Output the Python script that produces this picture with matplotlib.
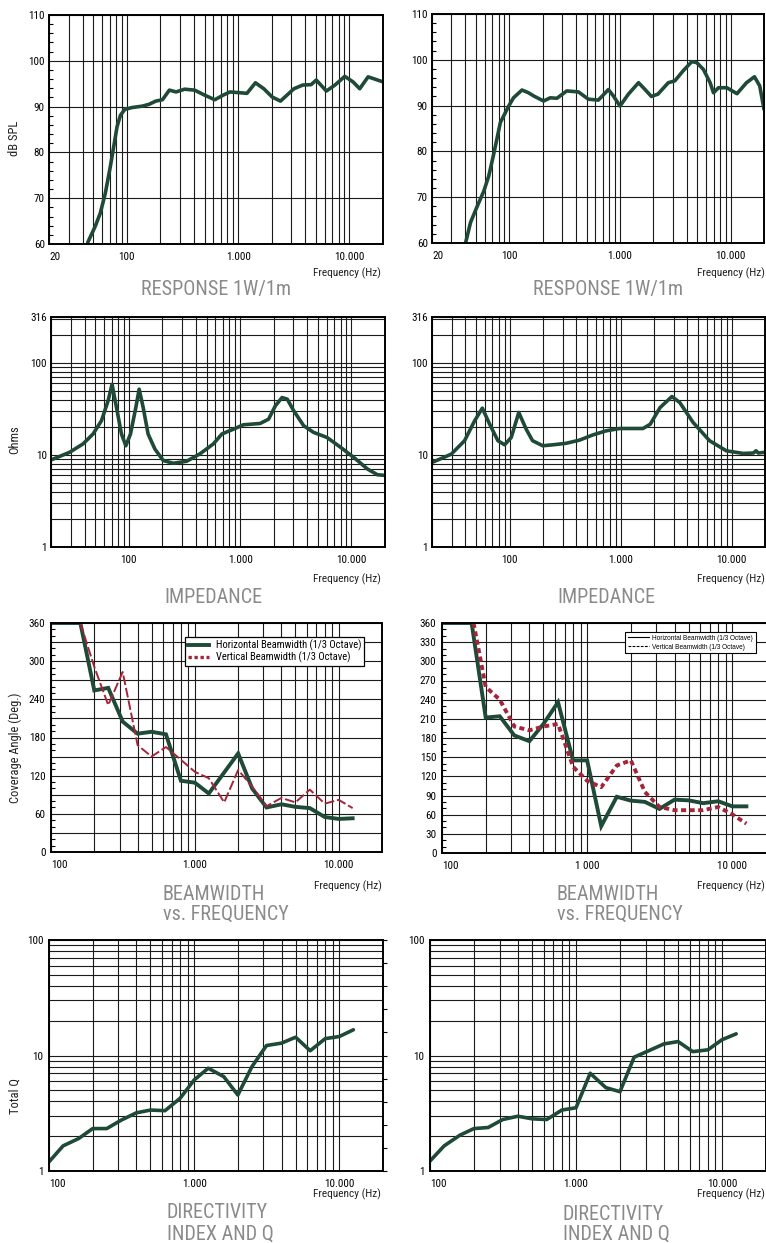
import numpy as np
import matplotlib
matplotlib.use('Agg')
import matplotlib.pyplot as plt
from matplotlib import font_manager as fm
from matplotlib.font_manager import FontProperties
from matplotlib.lines import Line2D
from matplotlib.ticker import LogLocator, NullFormatter, NullLocator, FixedLocator

# ---------------- DATA ----------------
RESP_L_F = [44.5, 51.9, 57.7, 64, 71.1, 76.2, 81.7, 87.6, 95.9, 111.8, 137.8, 158.5, 182, 209, 241, 277,
            330, 406, 500, 617, 733, 845, 1200, 1430, 1700, 2020, 2400, 3170, 3800, 4530, 5030, 6200,
            7400, 9070, 10760, 12360, 14700, 20000]
RESP_L_DB = [60.3, 63.8, 66.7, 71.0, 76.9, 81.2, 85.6, 88.1, 89.4, 89.8, 90.1, 90.5, 91.2, 91.5, 93.6, 93.2,
             93.8, 93.6, 92.5, 91.5, 92.5, 93.2, 92.9, 95.2, 93.9, 92.1, 91.2, 93.9, 94.7, 94.8, 95.8, 93.4,
             94.7, 96.6, 95.4, 93.9, 96.5, 95.4]

RESP_R_F = [40.2, 44.6, 51.2, 58.7, 65.1, 72.2, 82.9, 98.6, 109, 130, 149, 166, 204, 234, 269, 330, 420,
            518, 637, 785, 871, 1000, 1190, 1470, 1670, 1920, 2200, 2730, 3130, 3720, 4450, 4930, 5670,
            6520, 6990, 7760, 9250, 11400, 13900, 16400, 18300, 20000]
RESP_R_DB = [60.0, 64.5, 68.0, 71.3, 74.6, 79.4, 86.3, 89.9, 91.7, 93.4, 92.8, 92.1, 91.0, 91.7, 91.6, 93.2,
             93.0, 91.4, 91.2, 93.5, 92.1, 89.9, 92.5, 95.0, 93.6, 92.0, 92.5, 95.0, 95.4, 97.6, 99.6, 99.4,
             97.9, 95.0, 92.8, 93.9, 93.9, 92.6, 95.0, 96.3, 94.3, 89.2]

IMP_L_F = [20, 29.4, 38.8, 47.7, 56.8, 65.1, 70.7, 77.5, 85.9, 94, 103.5, 115.6, 123.8, 134.6, 149, 171.5,
           204, 251, 331, 436, 575, 685, 872, 1070, 1510, 1800, 2070, 2380, 2650, 3030, 3720, 4570, 6030,
           8000, 10500, 13900, 17100, 20000]
IMP_L_Z = [8.83, 10.7, 13.2, 16.9, 23.6, 38.7, 58.7, 32.8, 16.9, 12.6, 16.9, 32.8, 51.9, 32.8, 16.9, 11.6,
           8.7, 8.13, 8.55, 10.3, 13.2, 16.9, 19.1, 21.3, 22.0, 24.5, 34.2, 42.1, 40.4, 30.2, 20.8, 17.6, 15.5,
           12.1, 9.4, 7.05, 6.1, 6.0]

IMP_R_F = [20, 29.8, 39.3, 48.4, 56.8, 66.0, 78.5, 90.1, 103.5, 121, 141, 161, 199, 245, 323, 426, 561,
           740, 978, 1590, 1850, 2270, 2900, 3410, 4500, 6330, 8970, 12700, 15700, 16600, 17400, 20000]
IMP_R_Z = [8.3, 10.2, 14.3, 23.5, 32.3, 21.7, 14.3, 12.9, 15.5, 29.0, 19.1, 14.3, 12.6, 12.9, 13.4, 14.5,
           16.5, 18.3, 19.4, 19.4, 21.6, 32.8, 43.2, 37.2, 22.6, 14.3, 11.1, 10.4, 10.5, 11.1, 10.5, 10.7]

BEAM_L_HF = [100, 160, 200, 250, 315, 400, 500, 630, 800, 1000, 1250, 2000, 2500, 3150, 4000, 5000,
             6300, 8000, 10000, 12500]
BEAM_L_H = [360, 360, 254, 258, 205, 186, 189, 185, 112, 109, 92, 155, 100, 70, 75, 71, 69, 55, 52, 53]
BEAM_L_VF = [160, 200, 250, 315, 400, 500, 630, 800, 1000, 1250, 1600, 2000, 2500, 3150, 4000, 5000,
             6300, 8000, 10000, 12500]
BEAM_L_V = [360, 291, 231, 283, 168, 150, 165, 145, 126, 116, 78, 129, 103, 72, 85, 78, 98, 76, 82, 69]

BEAM_R_HF = [100, 160, 200, 250, 315, 400, 500, 630, 800, 1000, 1250, 1600, 2000, 2500, 3150, 4000,
             5000, 6300, 8000, 10000, 12500]
BEAM_R_H = [360, 360, 212, 214, 184, 175, 202, 236, 145, 145, 42, 88, 82, 80, 69, 83.5, 82.4, 78, 81, 73, 73]
BEAM_R_VF = [165, 200, 250, 315, 400, 500, 630, 800, 1000, 1250, 1600, 2000, 2500, 3150, 4000, 5000,
             6300, 8000, 10000, 12500]
BEAM_R_V = [360, 260, 240, 198, 192, 198, 202, 135, 113, 103, 137, 145, 95.5, 72, 67, 67, 67, 72, 60.5, 46]

DIR_L_F = [100, 125, 160, 200, 250, 315, 400, 500, 630, 800, 1000, 1250, 1600, 2000, 2500, 3150, 4000,
           5000, 6300, 8000, 10000, 12500]
DIR_L_Q = [1.2, 1.65, 1.91, 2.33, 2.33, 2.76, 3.19, 3.37, 3.33, 4.26, 6.14, 7.76, 6.56, 4.55, 8.0, 12.2,
           12.8, 14.4, 11.0, 14.0, 14.6, 16.7]
DIR_R_F = [100, 125, 160, 200, 250, 315, 400, 500, 630, 800, 1000, 1250, 1600, 2000, 2500, 3150, 4000,
           5000, 6300, 8000, 10000, 12500]
DIR_R_Q = [1.22, 1.65, 2.04, 2.33, 2.38, 2.79, 2.98, 2.83, 2.79, 3.37, 3.53, 7.02, 5.27, 4.86, 9.67, 11.0,
           12.6, 13.2, 10.8, 11.2, 13.7, 15.4]

RESP_YTICKS = [60, 70, 80, 90, 100, 110]
IMP_YTICKS = [1, 10, 100, 316]
DIR_YTICKS = [1, 10, 100]
LEG_H = 'Horizontal Beamwidth (1/3 Octave)'
LEG_V = 'Vertical Beamwidth (1/3 Octave)'

# ---------------- STYLE ----------------
W, H, DPI = 766, 1243, 100
GREEN = '#1f4a37'
RED = '#a3253a'
GRID = '#1a1a1a'
TITLE = '#8a8a8a'


def pick_cond():
    ents = fm.fontManager.ttflist
    names = {e.name for e in ents}
    for n in ['Liberation Sans Narrow', 'Roboto Condensed', 'DejaVu Sans Condensed',
              'Open Sans Condensed', 'Noto Sans Condensed', 'Arial Narrow']:
        if n in names:
            return dict(family=n)
    for fam in ['DejaVu Sans', 'Noto Sans', 'Open Sans', 'Roboto']:
        for e in ents:
            if e.name == fam and 'condensed' in str(e.stretch):
                return dict(family=fam, stretch=e.stretch)
    return dict(family='Liberation Sans')


COND = pick_cond()


def fp(size):
    return FontProperties(size=size, **COND)


fig = plt.figure(figsize=(W / DPI, H / DPI), dpi=DPI)


def px_axes(x0, y0, x1, y1):
    return fig.add_axes([x0 / W, 1 - y1 / H, (x1 - x0) / W, (y1 - y0) / H])


def ftext(x, y, s, **kw):
    kw.setdefault('va', 'center')
    fig.text(x / W, 1 - y / H, s, **kw)


def setup_x(ax, xlim, ticks, labels):
    ax.set_xscale('log')
    ax.set_xlim(*xlim)
    ax.set_xticks(ticks, labels=labels)
    ax.xaxis.set_minor_locator(LogLocator(base=10, subs=np.arange(2, 10), numticks=60))
    ax.xaxis.set_minor_formatter(NullFormatter())
    ax.tick_params(axis='x', which='both', length=0, pad=6)
    ax.xaxis.grid(True, which='both', color=GRID, lw=0.8)
    for lab in ax.get_xticklabels():
        lab.set_fontproperties(fp(8))
    ax.get_xticklabels()[0].set_ha('left')
    for s in ax.spines.values():
        s.set_linewidth(1.4)
        s.set_color('black')


def finish_y(ax):
    for lab in ax.get_yticklabels():
        lab.set_fontproperties(fp(8))


def resp(ax, f, db):
    setup_x(ax, (20, 20000), [20, 100, 1000, 10000], ['20', '100', '1.000', '10.000'])
    ax.set_ylim(60, 110)
    ax.set_yticks(RESP_YTICKS)
    ax.yaxis.set_minor_locator(FixedLocator(np.arange(60, 111, 2)))
    ax.tick_params(axis='y', which='major', length=0, pad=3)
    ax.tick_params(axis='y', which='minor', direction='in', length=3, width=0.8)
    ax.yaxis.grid(True, which='major', color=GRID, lw=0.8)
    ax.plot(f, db, color=GREEN, lw=2.6, solid_capstyle='round', solid_joinstyle='round')
    finish_y(ax)


def imp(ax, f, z):
    setup_x(ax, (20, 20000), [100, 1000, 10000], ['100', '1.000', '10.000'])
    ax.get_xticklabels()[0].set_ha('center')
    ax.set_yscale('log')
    ax.set_ylim(1, 316)
    ax.set_yticks(IMP_YTICKS, labels=[str(v) for v in IMP_YTICKS])
    ax.yaxis.set_minor_locator(LogLocator(base=10, subs=np.arange(2, 10), numticks=60))
    ax.yaxis.set_minor_formatter(NullFormatter())
    ax.tick_params(axis='y', which='both', length=0, pad=3)
    ax.yaxis.grid(True, which='both', color=GRID, lw=0.8)
    ax.plot(f, z, color=GREEN, lw=2.6, solid_capstyle='round', solid_joinstyle='round')
    finish_y(ax)


def beam(ax, step, tlab):
    setup_x(ax, (100, 20000), [100, 1000, 10000], tlab)
    ax.set_ylim(0, 360)
    ticks = np.arange(0, 361, 30)
    ax.set_yticks(ticks, labels=[str(t) if t % step == 0 else '' for t in ticks])
    ax.yaxis.set_minor_locator(FixedLocator(np.arange(0, 361, 10)))
    ax.tick_params(axis='y', which='major', length=0, pad=4)
    ax.tick_params(axis='y', which='minor', direction='in', length=3, width=0.8)
    ax.yaxis.grid(True, which='major', color=GRID, lw=0.8)
    finish_y(ax)


def direct(ax, f, q, tlab):
    setup_x(ax, (100, 20000), [100, 1000, 10000], tlab)
    ax.set_yscale('log')
    ax.set_ylim(1, 100)
    ax.set_yticks(DIR_YTICKS, labels=[str(v) for v in DIR_YTICKS])
    ax.yaxis.set_minor_locator(LogLocator(base=10, subs=np.arange(2, 10), numticks=60))
    ax.yaxis.set_minor_formatter(NullFormatter())
    ax.tick_params(axis='y', which='both', length=0, pad=4)
    ax.yaxis.grid(True, which='both', color=GRID, lw=0.8)
    ax.plot(f, q, color=GREEN, lw=2.6, solid_capstyle='round', solid_joinstyle='round')
    finish_y(ax)
    ax2 = ax.twinx()
    ax2.set_yscale('log')
    ax2.set_ylim(1, 100)
    ax2.set_yticks(10 ** (np.arange(0, 11) * 0.2), labels=[''] * 11)
    ax2.yaxis.set_minor_locator(NullLocator())
    ax2.tick_params(axis='y', direction='out', length=3, width=0.8)
    for s in ax2.spines.values():
        s.set_visible(False)


# ---- Response ----
axA = px_axes(49, 15, 383, 244)
resp(axA, RESP_L_F, RESP_L_DB)
axB = px_axes(432, 14, 764, 243)
resp(axB, RESP_R_F, RESP_R_DB)

# ---- Impedance ----
axC = px_axes(51, 317, 385, 547)
imp(axC, IMP_L_F, IMP_L_Z)
axD = px_axes(432, 317, 765, 547)
imp(axD, IMP_R_F, IMP_R_Z)

# ---- Beamwidth ----
axE = px_axes(51, 623, 382, 852)
beam(axE, 60, ['100', '1.000', '10.000'])
axE.plot(BEAM_L_HF, BEAM_L_H, color=GREEN, lw=2.8, solid_joinstyle='miter')
axE.plot(BEAM_L_VF, BEAM_L_V, color=RED, lw=1.4, ls=(0, (5, 1.5)))
hE = [Line2D([], [], color=GREEN, lw=2.8), Line2D([], [], color=RED, lw=2.4, ls=(0, (1, 0.8)))]
legE = axE.legend(hE, [LEG_H, LEG_V], loc='upper left', bbox_to_anchor=(0.405, 0.94), borderaxespad=0,
                  prop=fp(7.6), frameon=True, fancybox=False, framealpha=1, edgecolor='black',
                  handlelength=2.0, handletextpad=0.7, borderpad=0.25, labelspacing=0.05)
legE.get_frame().set_linewidth(0.9)

axF = px_axes(442, 623, 776, 853)
beam(axF, 30, ['100', '1 000', '10 000'])
axF.plot(BEAM_R_HF, BEAM_R_H, color=GREEN, lw=2.8, solid_joinstyle='miter')
axF.plot(BEAM_R_VF, BEAM_R_V, color=RED, lw=2.8, ls=(0, (1.3, 0.9)), dash_capstyle='butt')
hF = [Line2D([], [], color='black', lw=0.8), Line2D([], [], color='black', lw=0.8, ls=(0, (2.5, 1.2)))]
legF = axF.legend(hF, [LEG_H, LEG_V], loc='upper left', bbox_to_anchor=(0.548, 0.961), borderaxespad=0,
                  prop=FontProperties(family='Liberation Sans', size=4.7), frameon=True, fancybox=False,
                  framealpha=1, edgecolor='black', handlelength=3.3, handletextpad=0.5, borderpad=0.4,
                  labelspacing=0.3)
legF.get_frame().set_linewidth(0.8)

# ---- Directivity ----
axG = px_axes(49, 940, 383, 1171)
direct(axG, DIR_L_F, DIR_L_Q, ['100', '1.000', '10.000'])
axH = px_axes(430, 940, 766, 1171)
direct(axH, DIR_R_F, DIR_R_Q, ['100', '1.000', '10.000'])

# ---- texts ----
for x, y in [(381, 273), (765, 273), (381, 579), (765, 579), (382, 886), (765, 886), (381, 1194), (765, 1194)]:
    ftext(x, y, 'Frequency (Hz)', ha='right', fontproperties=fp(8.2), color='#222222')

ftext(15, 138, 'dB SPL', ha='center', rotation=90, fontproperties=fp(9), color='#222222')
ftext(15, 440, 'Ohms', ha='center', rotation=90, fontproperties=fp(9), color='#222222')
ftext(15, 748, 'Coverage Angle (Deg.)', ha='center', rotation=90, fontproperties=fp(9), color='#222222')
ftext(15, 1096, 'Total Q', ha='center', rotation=90, fontproperties=fp(9), color='#222222')

TS = 14.5
ftext(216, 289, 'RESPONSE 1W/1m', ha='center', fontproperties=fp(TS), color=TITLE)
ftext(608, 289, 'RESPONSE 1W/1m', ha='center', fontproperties=fp(TS), color=TITLE)
ftext(213, 597, 'IMPEDANCE', ha='center', fontproperties=fp(TS), color=TITLE)
ftext(606, 597, 'IMPEDANCE', ha='center', fontproperties=fp(TS), color=TITLE)
ftext(163, 895, 'BEAMWIDTH', ha='left', fontproperties=fp(TS), color=TITLE)
ftext(163, 914, 'vs. FREQUENCY', ha='left', fontproperties=fp(TS), color=TITLE)
ftext(557, 895, 'BEAMWIDTH', ha='left', fontproperties=fp(TS), color=TITLE)
ftext(557, 914, 'vs. FREQUENCY', ha='left', fontproperties=fp(TS), color=TITLE)
ftext(167, 1213, 'DIRECTIVITY', ha='left', fontproperties=fp(TS), color=TITLE)
ftext(167, 1234, 'INDEX AND Q', ha='left', fontproperties=fp(TS), color=TITLE)
ftext(563, 1214, 'DIRECTIVITY', ha='left', fontproperties=fp(TS), color=TITLE)
ftext(563, 1234, 'INDEX AND Q', ha='left', fontproperties=fp(TS), color=TITLE)

fig.savefig('out.png', dpi=DPI)
